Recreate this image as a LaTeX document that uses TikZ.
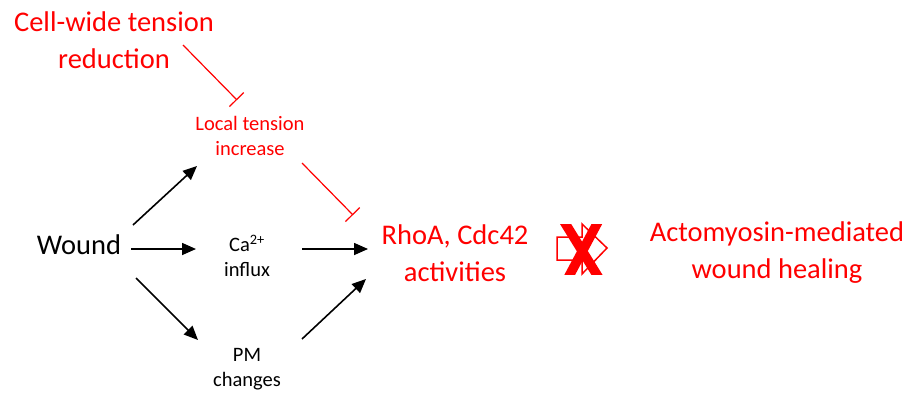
\documentclass[tikz,border=0pt]{standalone}
\usepackage{fontspec}
\setmainfont{Carlito}
\usetikzlibrary{arrows.meta,calc}
\definecolor{myred}{RGB}{255,0,0}
\tikzset{
  big/.style={font=\fontsize{28.5}{37}\selectfont, align=center, inner sep=0pt},
  small/.style={font=\fontsize{20.5}{25}\selectfont, align=center, inner sep=0pt},
  arr/.style={line width=1.6pt, -{Triangle[length=14pt,width=12pt]}},
  inh/.style={myred, line width=1.2pt, -{Bar[width=20pt,line width=1.2pt]}},
}
\begin{document}
\begin{tikzpicture}[x=1pt,y=-1pt]
\useasboundingbox (0,0) rectangle (912,396);
\node[big, text=myred] (cell) at (114,40) {Cell-wide tension\\reduction};
\node[small, text=myred] (local) at (250,136) {Local tension\\increase};
\node[big] (wound) at (79,245) {Wound};
\node[small] (ca) at (247,256) {Ca\textsuperscript{2+}\\influx};
\node[small] (pm) at (247,369) {PM\\changes};
\node[big, text=myred] (rhoa) at (455,253) {RhoA, Cdc42\\activities};
\node[big, text=myred] (acto) at (777,253) {Actomyosin-mediated\\wound healing};

\draw[inh] ($(cell)+(69,5)$) -- ($(local)+(-13,-36)$);
\draw[inh] ($(local)+(52,27)$) -- ($(rhoa)+(-102,-38)$);
\draw[arr] ($(wound)+(54,-20)$) -- ($(local)+(-53,30)$);
\draw[arr] ($(wound)+(52,4)$) -- ($(ca)+(-51,-7)$);
\draw[arr] ($(wound)+(57,33)$) -- ($(pm)+(-49,-29)$);
\draw[arr] ($(ca)+(55,-7)$) -- ($(rhoa)+(-87,-4)$);
\draw[arr] ($(pm)+(55,-30)$) -- ($(rhoa)+(-89,26)$);

% crossed arrow symbol
\coordinate (sym) at (582,249);
\draw[myred, line width=1.5pt, line join=miter]
  ($(sym)+(-25,-12)$) -- ($(sym)+(0,-12)$) -- ($(sym)+(0,-25)$) -- ($(sym)+(25,-1)$)
  -- ($(sym)+(0,25)$) -- ($(sym)+(0,11)$) -- ($(sym)+(-25,11)$) -- cycle;
\begin{scope}
\clip ($(sym)+(-30,-25)$) rectangle ($(sym)+(30,25)$);
\draw[myred, line width=9.5pt] ($(sym)+(-19.5,-30)$) -- ($(sym)+(17.5,30)$);
\draw[myred, line width=9.5pt] ($(sym)+(17.5,-30)$) -- ($(sym)+(-14.5,30)$);
\end{scope}
\end{tikzpicture}
\end{document}
